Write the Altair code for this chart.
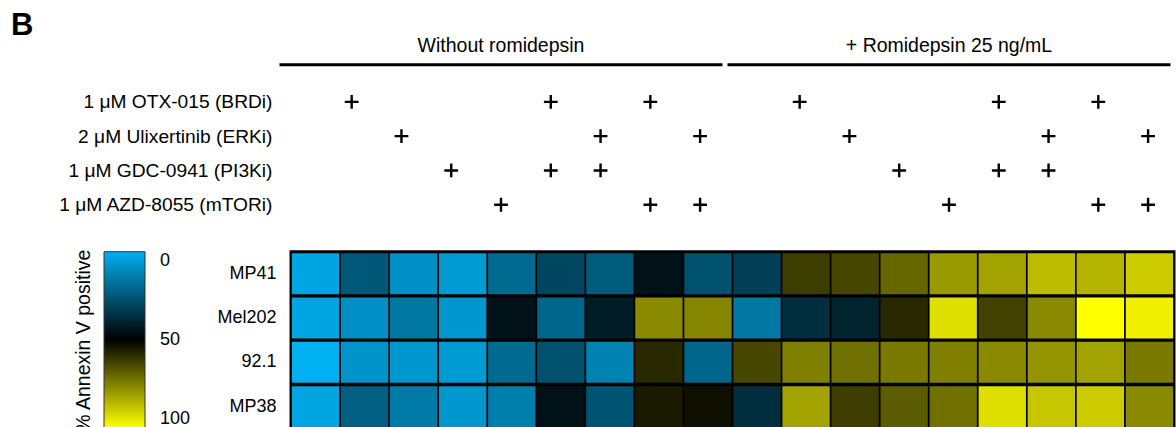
import altair as alt
import pandas as pd

# ---------------------------------------------------------------- data
cell_lines = ["MP41", "Mel202", "92.1", "MP38"]
groups = ["Without romidepsin", "+ Romidepsin 25 ng/mL"]
drugs = [
    "1 μM OTX-015 (BRDi)",
    "2 μM Ulixertinib (ERKi)",
    "1 μM GDC-0941 (PI3Ki)",
    "1 μM AZD-8055 (mTORi)",
]
# inhibitors present in each condition of a group (indices into `drugs`)
combos = [[], [0], [1], [2], [3], [0, 2], [1, 2], [0, 3], [1, 3]]

# % Annexin V positive cells per condition (9 without, then 9 with romidepsin)
pct_mp41 = [3, 25, 9, 6, 20, 30, 24, 45, 27, 32, 62, 64, 70, 80, 82, 87, 85, 90]
pct_mel202 = [3, 9, 16, 7, 45, 21, 42, 77, 76, 16, 37, 40, 58, 94, 63, 77, 100, 97]
pct_921 = [0, 8, 7, 6, 20, 27, 13, 58, 21, 64, 75, 72, 74, 75, 77, 79, 82, 74]
pct_mp38 = [3, 23, 15, 7, 14, 45, 26, 55, 53, 37, 82, 62, 68, 72, 94, 89, 90, 77]

legend_ticks = [0, 50, 100]
tick_colors = ["#00B0F0", "#000000", "#FFFF00"]   # colour at 0, 50 and 100 %

# ------------------------------------------------------------- tables
short = [d.split(" ")[2] for d in drugs]
conditions = []
for g in groups:
    for c in combos:
        conditions.append(g + " | " + ("vehicle" if not c else " + ".join(short[i] for i in c)))

heat_rows = []
for line, vals in zip(cell_lines, [pct_mp41, pct_mel202, pct_921, pct_mp38]):
    for cond, v in zip(conditions, vals):
        heat_rows.append({"line": line, "cond": cond, "pct": v})
heat_df = pd.DataFrame(heat_rows)

plus_rows = []
for gi, g in enumerate(groups):
    for k, c in enumerate(combos):
        for d in c:
            plus_rows.append({"col": gi * len(combos) + k, "drug": drugs[d]})
plus_df = pd.DataFrame(plus_rows)

group_df = pd.DataFrame({
    "group": groups,
    "start": [gi * len(combos) for gi in range(len(groups))],
    "end": [(gi + 1) * len(combos) for gi in range(len(groups))],
})

FONT = "Liberation Sans"
W = 883
n_cols = len(conditions)

# ------------------------------------------------- treatment grid (top)
x_top = alt.Scale(domain=[0, n_cols], range=[-14, 882])

plus = alt.Chart(plus_df).transform_calculate(
    xc="datum.col + 0.5"
).mark_point(
    shape="M-1,0H1M0,-1V1", filled=False, color="black",
    strokeWidth=2.4, size=190, opacity=1
).encode(
    x=alt.X("xc:Q", scale=x_top, axis=None),
    y=alt.Y(
        "drug:N",
        scale=alt.Scale(domain=drugs, paddingInner=0, paddingOuter=0),
        axis=alt.Axis(title=None, domain=False, ticks=False, labelFontSize=19.2,
                      labelPadding=19, labelColor="black", labelLimit=0),
    ),
)

rules = alt.Chart(group_df).transform_calculate(
    x0="datum.start + 0.05", x1="datum.end - 0.05"
).mark_rule(color="black", strokeWidth=3).encode(
    x=alt.X("x0:Q", scale=x_top), x2="x1:Q", y=alt.value(-20)
)

group_labels = alt.Chart(group_df).transform_calculate(
    mid="(datum.start + datum.end) / 2"
).mark_text(fontSize=19.5, color="black", baseline="middle").encode(
    x=alt.X("mid:Q", scale=x_top), y=alt.value(-39), text="group:N"
)

panel = alt.Chart(pd.DataFrame({"panel": ["B"]})).mark_text(
    fontSize=31, fontWeight="bold", color="black", align="left", baseline="top"
).encode(x=alt.value(-280), y=alt.value(-73.6), text="panel:N")

top = alt.layer(plus, rules, group_labels, panel).properties(
    width=W, height=137.2, view=alt.ViewBackground(stroke="transparent")
)

# ------------------------------------------------------ heatmap (bottom)
# the colour channel runs on -pct so that the vertical colour bar reads
# 0 at its top and 100 at its bottom; its labels show the plain percentage
cells = alt.Chart(heat_df).transform_calculate(
    neg="-datum.pct"
).mark_rect().encode(
    x=alt.X("cond:N", scale=alt.Scale(domain=conditions, paddingInner=0.035,
                                      paddingOuter=0.018), axis=None),
    y=alt.Y(
        "line:N",
        scale=alt.Scale(domain=cell_lines, paddingInner=0.075, paddingOuter=0.035),
        axis=alt.Axis(title=None, domain=False, ticks=False, labelFontSize=18,
                      labelPadding=15, labelColor="black"),
    ),
    color=alt.Color(
        "neg:Q",
        scale=alt.Scale(domain=[-t for t in legend_ticks[::-1]],
                        range=tick_colors[::-1], interpolate="rgb"),
        legend=alt.Legend(
            orient="none", legendX=-187, legendY=0, title=None,
            direction="vertical", gradientLength=176, gradientThickness=41,
            values=[-t for t in legend_ticks[::-1]],
            labelExpr="'' + abs(datum.value)",
            labelFontSize=18, labelOffset=15, labelColor="black",
            gradientStrokeColor="#333333", gradientStrokeWidth=1,
        ),
    ),
)

legend_title = alt.Chart(pd.DataFrame({"title": ["% Annexin V positive"]})).mark_text(
    angle=270, align="right", baseline="middle", fontSize=19.5, color="black"
).encode(x=alt.value(-207), y=alt.value(-2), text="title:N")

heat = alt.layer(cells, legend_title).properties(
    width=W, height=177,
    view=alt.ViewBackground(fill="black", stroke="black", strokeWidth=3),
)

chart = alt.vconcat(top, heat, spacing=25).resolve_legend(
    color="independent"
).properties(
    padding={"left": 10, "top": 8.7, "right": 0, "bottom": 0}
).configure(font=FONT, background="white")

chart.save("out.html", embed_options={"renderer": "svg", "actions": False})
